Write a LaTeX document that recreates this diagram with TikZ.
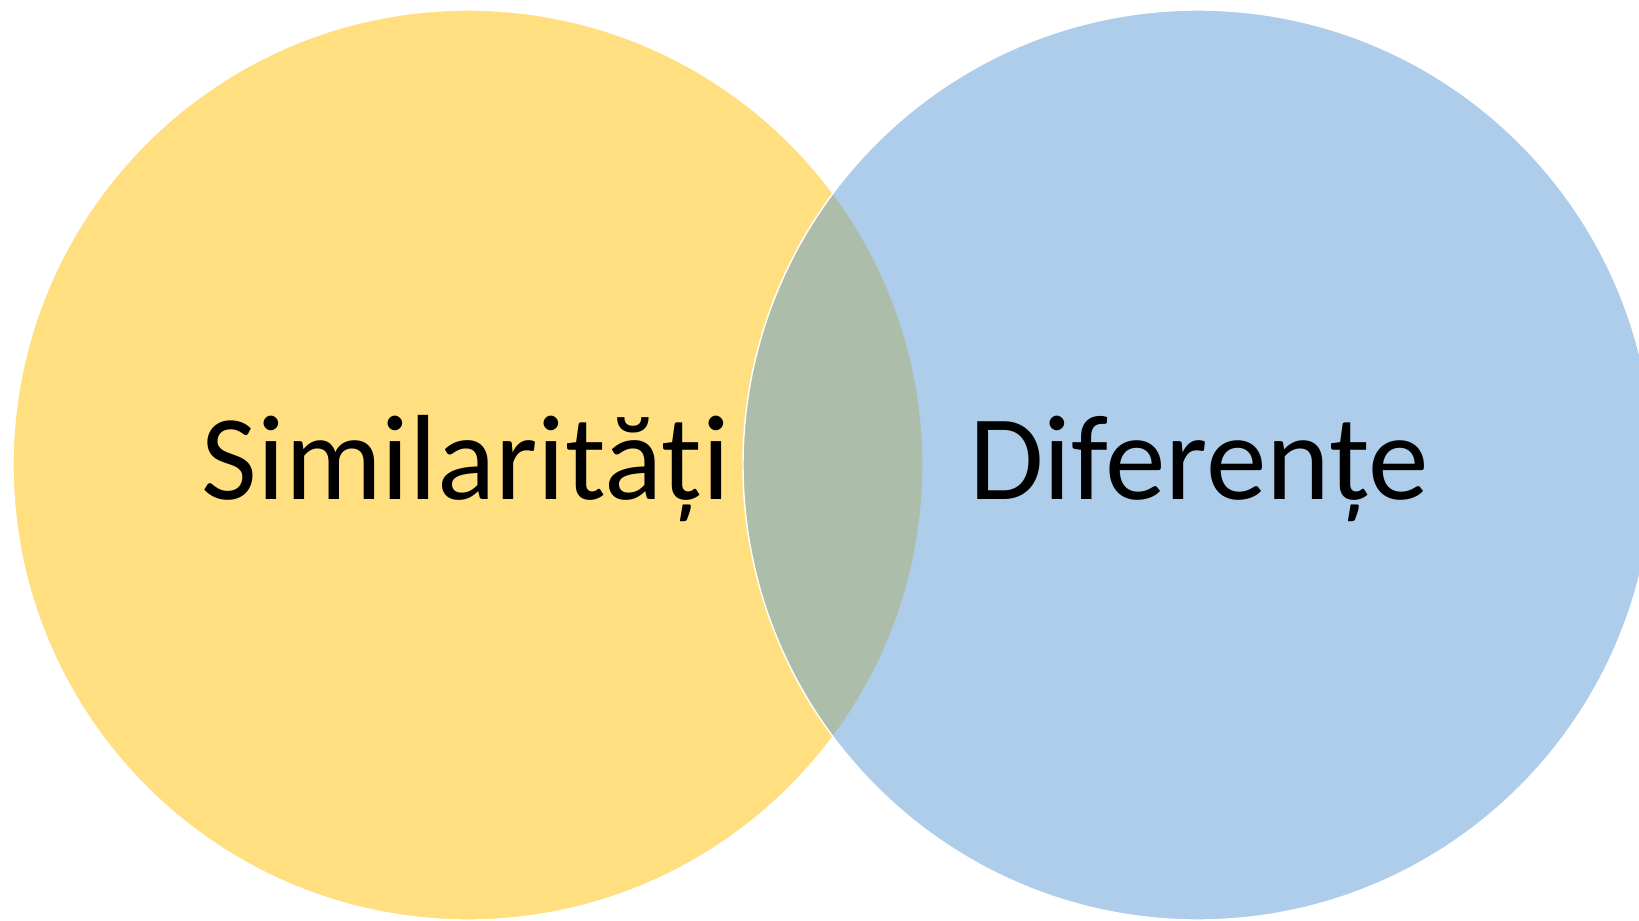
\documentclass[tikz,border=0pt]{standalone}
\usepackage{fontspec}
\setmainfont{Carlito}
\usepackage{tikz}
\usetikzlibrary{positioning}

\definecolor{setyellow}{HTML}{FFC000}
\definecolor{setblue}{HTML}{5B9BD5}

\begin{document}
\begin{tikzpicture}[
    x=0.02cm, y=-0.02cm, % one unit = one pixel of the slide
    set/.style={circle, minimum size=910*0.02cm, inner sep=0pt, outer sep=0pt,
        fill opacity=0.5, draw=white, draw opacity=1, line width=0.8pt},
    yellowset/.style={set, fill=setyellow},
    blueset/.style={set, fill=setblue},
    setlabel/.style={anchor=base, inner sep=0pt, font=\fontsize{69}{80}\selectfont}
]
    \useasboundingbox (0,0) rectangle (1639,920);
    \clip (0,0) rectangle (1639,920);

    % 1. The two sets
    \node[yellowset] (simset) at (468,465) {};
    \node[blueset] (difset) at (1198,465) {};

    % 2. Their labels
    \node[setlabel] (simlabel) at (466,499) {Similarități};
    \node[setlabel] (diflabel) at (1199,499) {Diferențe};
\end{tikzpicture}
\end{document}
